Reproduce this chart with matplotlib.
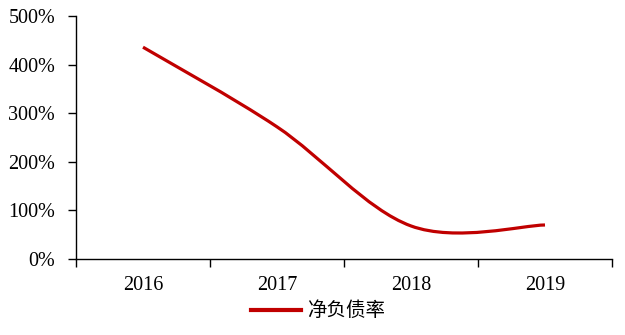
import matplotlib
matplotlib.use("Agg")
import matplotlib.pyplot as plt
import numpy as np
from matplotlib.path import Path
from matplotlib.patches import PathPatch
from matplotlib.lines import Line2D

years = ["2016", "2017", "2018", "2019"]
net_debt_ratio = [436, 272, 68, 70]   # %
series_name = "净负债率"

plt.rcParams['font.family'] = ['Liberation Serif', 'DejaVu Serif']

fig = plt.figure(figsize=(6.25, 3.35), dpi=100)
ax = fig.add_axes([0.1216, 0.2269, 0.9792 - 0.1216, 0.952 - 0.2269])

x = np.arange(len(years), dtype=float)
y = np.array(net_debt_ratio, dtype=float)

# excel-style smoothed line: cubic bezier segments, ends duplicated
px = np.concatenate([[x[0]], x, [x[-1]]])
py = np.concatenate([[y[0]], y, [y[-1]]])
verts = [(x[0], y[0])]
codes = [Path.MOVETO]
for i in range(1, len(px) - 2):
    c1 = (px[i] + (px[i+1] - px[i-1]) / 6, py[i] + (py[i+1] - py[i-1]) / 6)
    c2 = (px[i+1] - (px[i+2] - px[i]) / 6, py[i+1] - (py[i+2] - py[i]) / 6)
    verts += [c1, c2, (px[i+1], py[i+1])]
    codes += [Path.CURVE4] * 3
color = '#C00000'
ax.add_patch(PathPatch(Path(verts, codes), facecolor='none', edgecolor=color,
                       lw=2.3, capstyle='butt'))

ax.set_xlim(-0.5, len(years) - 0.5)
ax.set_ylim(0, 500)
ax.set_yticks(range(0, 501, 100))
ax.set_yticklabels([f"{v}%" for v in range(0, 501, 100)], fontsize=14.5)
ax.set_xticks(x)
ax.set_xticklabels(years, fontsize=14.5)
ax.set_xticks(np.arange(-0.5, len(years), 1), minor=True)
ax.tick_params(axis='x', which='major', length=0, pad=12)
ax.tick_params(axis='x', which='minor', length=6, width=1, direction='out')
ax.tick_params(axis='y', length=6, width=1, direction='out', pad=9)

for s in ['top', 'right']:
    ax.spines[s].set_visible(False)
for s in ['left', 'bottom']:
    ax.spines[s].set_linewidth(1)

handle = Line2D([], [], color=color, lw=3)
fig.legend([handle], [series_name], loc='center', bbox_to_anchor=(0.509, 0.072),
           frameon=False, handlelength=2.6, handletextpad=0.3,
           prop={'family': ['Noto Sans CJK SC'], 'size': 14})

fig.savefig("out.png", dpi=100)
